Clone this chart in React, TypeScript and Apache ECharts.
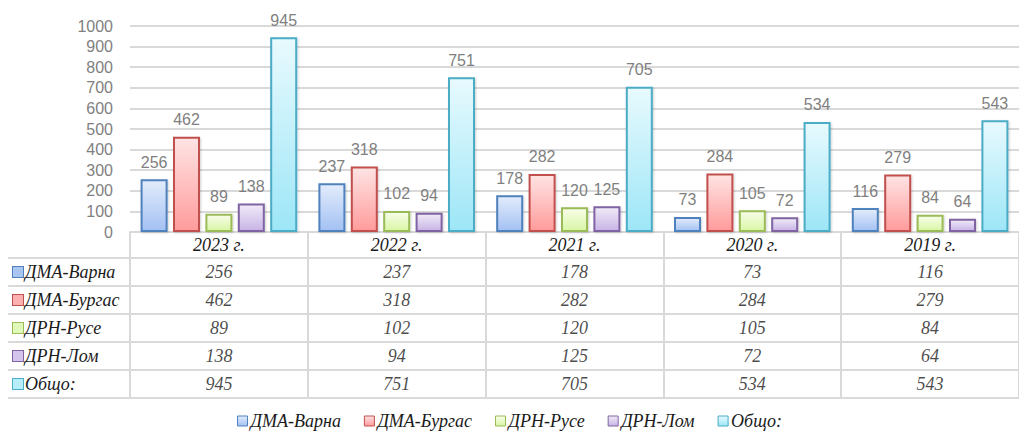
import React, { useEffect, useRef } from "react";
import * as echarts from "echarts";

const categories = ["2023 г.", "2022 г.", "2021 г.", "2020 г.", "2019 г."];
const seriesNames = ["ДМА-Варна", "ДМА-Бургас", "ДРН-Русе", "ДРН-Лом", "Общо:"];
const varna = [256, 237, 178, 73, 116];
const burgas = [462, 318, 282, 284, 279];
const ruse = [89, 102, 120, 105, 84];
const lom = [138, 94, 125, 72, 64];
const total = [945, 751, 705, 534, 543];
const yTicks = { min: 0, max: 1000, interval: 100 };

const seriesValues = [varna, burgas, ruse, lom, total];

const palette = [
  { border: "#4f81bd", top: "#e3ecfb", bottom: "#a3c1f3", icon: "#a9c6f2" },
  { border: "#c0504d", top: "#ffe4e4", bottom: "#ff9b9b", icon: "#fcb0b0" },
  { border: "#9bbb59", top: "#f8fdea", bottom: "#d8f6a4", icon: "#e0f8b8" },
  { border: "#8064a2", top: "#f1ebf8", bottom: "#c7b3e5", icon: "#d3c4ec" },
  { border: "#4bacc6", top: "#e8fafe", bottom: "#9de6f7", icon: "#b5eefa" },
];

const LINE = "#d9d9d9";
const SERIF = "'Liberation Serif', 'Times New Roman', serif";
const SANS = "'Liberation Sans', Arial, sans-serif";
const TXT = "#1a1a1a";

export default function App() {
  const ref = useRef<HTMLDivElement>(null);

  useEffect(() => {
    if (!ref.current) return;
    const chart = echarts.init(ref.current, null, { renderer: "svg" });

    const rich: Record<string, any> = {
      t: { fontFamily: SERIF, fontStyle: "italic", fontSize: 18, color: TXT, padding: [0, 0, 0, 2] },
    };
    palette.forEach((p, i) => {
      rich["i" + i] = {
        width: 10,
        height: 10,
        backgroundColor: p.icon,
        borderColor: p.border,
        borderWidth: 1,
      };
    });

    const barSeries = seriesNames.map((name, i) => ({
      name,
      type: "bar",
      xAxisIndex: 0,
      yAxisIndex: 0,
      barWidth: 27,
      barGap: "20%",
      data: seriesValues[i],
      itemStyle: {
        color: {
          type: "linear",
          x: 0,
          y: 0,
          x2: 0,
          y2: 1,
          colorStops: [
            { offset: 0, color: palette[i].top },
            { offset: 1, color: palette[i].bottom },
          ],
        },
        borderColor: palette[i].border,
        borderWidth: 2,
        shadowColor: "rgba(0,0,0,0.18)",
        shadowBlur: 2,
        shadowOffsetX: 1,
        shadowOffsetY: 1,
      },
      label: {
        show: true,
        position: "top",
        distance: 9,
        color: "#7f7f7f",
        fontFamily: SANS,
        fontSize: 16,
      },
    }));

    const tableData: any[] = [];
    seriesValues.forEach((vals, r) => {
      vals.forEach((v, c) => tableData.push([c, r, v]));
    });

    chart.setOption({
      animation: false,
      backgroundColor: "#ffffff",
      grid: [
        { left: 130, top: 26, width: 900, height: 206 },
        { left: 130, top: 258, width: 900, height: 140 },
      ],
      legend: {
        data: seriesNames,
        left: "center",
        top: 411,
        padding: 0,
        itemWidth: 10,
        itemHeight: 10,
        itemGap: 23,
        icon: "rect",
        itemStyle: { borderWidth: 1 },
        textStyle: {
          fontFamily: SERIF,
          fontStyle: "italic",
          fontSize: 18,
          lineHeight: 20,
          color: TXT,
          padding: [0, 0, 0, -2],
        },
      },
      xAxis: [
        {
          type: "category",
          gridIndex: 0,
          data: categories,
          axisLine: { show: true, lineStyle: { color: LINE, width: 2 } },
          axisTick: { show: true, length: 26, interval: 0, lineStyle: { color: LINE, width: 2 } },
          axisLabel: {
            interval: 0,
            margin: 0,
            lineHeight: 26,
            height: 26,
            fontFamily: SERIF,
            fontStyle: "italic",
            fontSize: 18,
            color: TXT,
          },
          splitLine: { show: false },
        },
        {
          type: "category",
          gridIndex: 1,
          data: categories,
          position: "bottom",
          axisLine: { show: true, lineStyle: { color: LINE, width: 2 } },
          axisTick: { show: false },
          axisLabel: { show: false },
          splitLine: { show: true, interval: 0, lineStyle: { color: LINE, width: 2 } },
        },
        {
          type: "category",
          gridIndex: 1,
          data: categories,
          position: "top",
          axisLine: { show: true, lineStyle: { color: LINE, width: 2 } },
          axisTick: { show: false },
          axisLabel: { show: false },
        },
      ],
      yAxis: [
        {
          type: "value",
          gridIndex: 0,
          min: yTicks.min,
          max: yTicks.max,
          interval: yTicks.interval,
          axisLine: { show: false },
          axisTick: { show: false },
          axisLabel: {
            margin: 17,
            color: "#7f7f7f",
            fontFamily: SANS,
            fontSize: 16,
            formatter: (v: number) => String(v),
          },
          splitLine: { show: true, lineStyle: { color: LINE, width: 2 } },
        },
        {
          type: "category",
          gridIndex: 1,
          inverse: true,
          data: seriesNames,
          axisLine: { show: true, lineStyle: { color: LINE, width: 2 } },
          axisTick: { show: true, length: 122, interval: 0, lineStyle: { color: LINE, width: 2 } },
          splitLine: { show: true, interval: 0, lineStyle: { color: LINE, width: 2 } },
          axisLabel: {
            interval: 0,
            align: "left",
            margin: 117,
            formatter: (value: string, index: number) => `{i${index}|}{t|${value}}`,
            rich,
          },
        },
        {
          type: "category",
          gridIndex: 1,
          inverse: true,
          data: seriesNames,
          offset: 122,
          axisLine: { show: true, lineStyle: { color: LINE, width: 2 } },
          axisTick: { show: false },
          axisLabel: { show: false },
        },
      ],
      series: [
        ...barSeries,
        {
          name: "table",
          type: "scatter",
          xAxisIndex: 1,
          yAxisIndex: 1,
          symbolSize: 1,
          itemStyle: { color: "rgba(0,0,0,0)" },
          data: tableData,
          label: {
            show: true,
            position: "inside",
            formatter: (p: any) => String(p.value[2]),
            fontFamily: SERIF,
            fontStyle: "italic",
            fontSize: 18,
            color: TXT,
          },
        },
      ],
    });

    return () => chart.dispose();
  }, []);

  return (
    <div
      ref={ref}
      style={{ position: "absolute", left: 0, top: 0, width: 1019, height: 435 }}
    />
  );
}
